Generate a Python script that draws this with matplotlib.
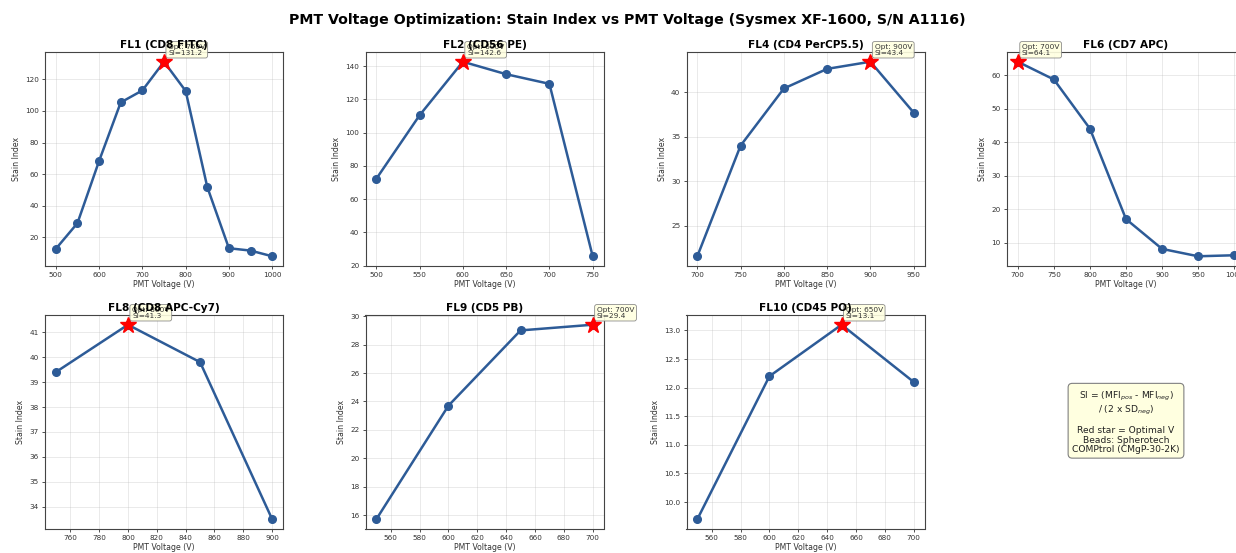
import matplotlib
matplotlib.use("Agg")
import matplotlib.pyplot as plt

# stain index per detector over the voltage sweep
fl1_v = [500, 550, 600, 650, 700, 750, 800, 850, 900, 950, 1000]
fl1_si = [12.6, 28.9, 68.3, 105.4, 113.0, 131.2, 112.7, 51.8, 13.0, 11.5, 7.9]

fl2_v = [500, 550, 600, 650, 700, 750]
fl2_si = [72.2, 110.4, 142.6, 135.1, 129.3, 25.6]

fl4_v = [700, 750, 800, 850, 900, 950]
fl4_si = [21.6, 34.0, 40.4, 42.6, 43.4, 37.7]

fl6_v = [700, 750, 800, 850, 900, 950, 1000]
fl6_si = [64.1, 58.8, 44.1, 17.1, 8.2, 6.0, 6.3]

fl8_v = [750, 800, 850, 900]
fl8_si = [39.4, 41.3, 39.8, 33.5]

fl9_v = [550, 600, 650, 700]
fl9_si = [15.7, 23.7, 29.0, 29.4]

fl10_v = [550, 600, 650, 700]
fl10_si = [9.7, 12.2, 13.1, 12.1]

channels = ["FL1 (CD8 FITC)", "FL2 (CD56 PE)", "FL4 (CD4 PerCP5.5)", "FL6 (CD7 APC)",
            "FL8 (CD8 APC-Cy7)", "FL9 (CD5 PB)", "FL10 (CD45 PO)"]
voltages = [fl1_v, fl2_v, fl4_v, fl6_v, fl8_v, fl9_v, fl10_v]
indices = [fl1_si, fl2_si, fl4_si, fl6_si, fl8_si, fl9_si, fl10_si]

note = ("SI = (MFI$_{pos}$ - MFI$_{neg}$)\n/ (2 x SD$_{neg}$)\n\n"
        "Red star = Optimal V\nBeads: Spherotech\nCOMPtrol (CMgP-30-2K)")

W, H = 1236, 553
fig = plt.figure(figsize=(W / 100, H / 100), dpi=100)

# grid of panels, in pixels (the last column runs off the right edge)
col_left = [45, 365.5, 686.5, 1007]
row_top = [52, 315]
ax_w, ax_h = 238, 214

def panel(r, c):
    l = col_left[c] / W
    b = 1 - (row_top[r] + ax_h) / H
    return fig.add_axes([l, b, ax_w / W, ax_h / H])

line_col = "#2d5b97"

for k, (name, v, si) in enumerate(zip(channels, voltages, indices)):
    ax = panel(k // 4, k % 4)
    ax.plot(v, si, "-o", color=line_col, lw=1.8, ms=5.5)
    best = max(range(len(si)), key=lambda i: si[i])
    ax.plot(v[best], si[best], "*", color="red", ms=12, zorder=5)
    ax.annotate(f"Opt: {v[best]}V\nSI={si[best]:.1f}", (v[best], si[best]),
                xytext=(3, 5), textcoords="offset points", fontsize=5.3,
                color="#333333", linespacing=1.0,
                bbox=dict(boxstyle="round,pad=0.3", fc="lightyellow", ec="gray",
                          lw=0.6, alpha=0.9))
    ax.set_title(name, fontsize=7.6, fontweight="bold", pad=3)
    ax.set_xlabel("PMT Voltage (V)", fontsize=5.6, labelpad=1, color="#333333")
    ax.set_ylabel("Stain Index", fontsize=5.6, labelpad=3, color="#333333")
    ax.tick_params(labelsize=5.2, length=2.5, width=0.6, pad=2, colors="#333333")
    ax.grid(True, alpha=0.3, lw=0.6)
    for s in ax.spines.values():
        s.set_color("#444444")
        s.set_linewidth(0.8)

ax = panel(1, 3)
ax.axis("off")
ax.text(0.5, 0.5, note, transform=ax.transAxes, ha="center", va="center",
        fontsize=6.6, color="#222222", linespacing=1.05,
        bbox=dict(boxstyle="round,pad=0.45", fc="lightyellow", ec="gray", lw=0.8))

fig.suptitle("PMT Voltage Optimization: Stain Index vs PMT Voltage (Sysmex XF-1600, S/N A1116)",
             x=627 / W, y=1 - 20 / H, fontsize=10.2, fontweight="bold", va="center")

fig.savefig("out.png", dpi=100)
